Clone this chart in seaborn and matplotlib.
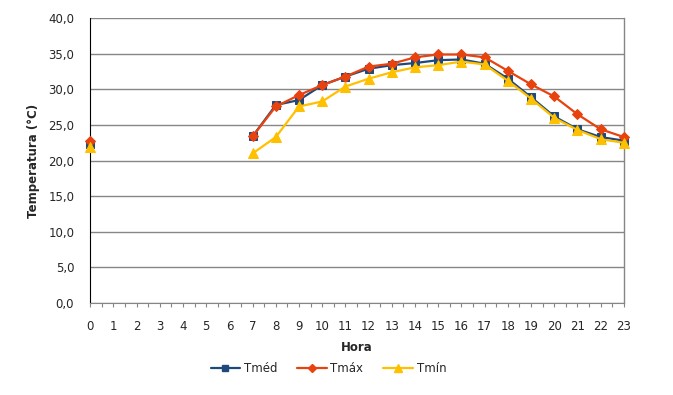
import numpy as np
import pandas as pd
import matplotlib
matplotlib.use("Agg")
import matplotlib.pyplot as plt
from matplotlib.lines import Line2D
from matplotlib.ticker import FuncFormatter, MultipleLocator
import seaborn as sns

# Hourly temperatures (hours 1-6 missing)
hours = list(range(24))
nan = np.nan
t_med = [22.3, nan, nan, nan, nan, nan, nan, 23.4, 27.8, 28.5, 30.6, 31.8,
         32.9, 33.4, 33.7, 34.1, 34.2, 33.6, 31.5, 28.9, 26.2, 24.4, 23.3, 22.8]
t_max = [22.7, nan, nan, nan, nan, nan, nan, 23.4, 27.6, 29.2, 30.6, 31.8,
         33.2, 33.6, 34.5, 34.9, 34.9, 34.5, 32.6, 30.7, 29.0, 26.5, 24.4, 23.3]
t_min = [21.9, nan, nan, nan, nan, nan, nan, 21.0, 23.3, 27.6, 28.3, 30.4,
         31.5, 32.4, 33.1, 33.4, 33.9, 33.5, 31.2, 28.7, 26.0, 24.3, 23.0, 22.5]
series_names = ["Tméd", "Tmáx", "Tmín"]
colors = ["#1F497D", "#E8420E", "#FFC000"]
markers = ["s", "D", "^"]
marker_sizes = [6, 5.5, 7]


def build_frame():
    rows = []
    for name, vals in zip(series_names, [t_med, t_max, t_min]):
        for h, v in zip(hours, vals):
            if np.isnan(v):
                continue
            # separate segments so the gap at hours 1-6 is not bridged
            rows.append({"hora": h, "temp": v, "serie": name,
                         "seg": 0 if h == 0 else 1})
    return pd.DataFrame(rows)


def main():
    df = build_frame()
    sns.set_style("white")
    plt.rcParams["font.family"] = ["DejaVu Sans"]

    fig = plt.figure(figsize=(6.73, 3.95), dpi=100)
    ax = fig.add_axes([0.134, 0.233, 0.793, 0.721])

    for name, c, m, ms in zip(series_names, colors, markers, marker_sizes):
        sub = df[df["serie"] == name]
        sns.lineplot(data=sub, x="hora", y="temp", units="seg", estimator=None,
                     color=c, marker=m, markersize=ms, markeredgecolor=c,
                     linewidth=1.6, ax=ax, legend=False, zorder=3)
    for line in ax.lines:
        line.set_clip_on(False)

    ax.set_xlim(0, 23)
    ax.set_ylim(0, 40)
    ax.set_xticks(hours)
    ax.xaxis.set_minor_locator(MultipleLocator(0.5))
    ax.set_yticks(np.arange(0, 41, 5))
    ax.yaxis.set_major_formatter(FuncFormatter(lambda v, p: f"{v:.1f}".replace(".", ",")))
    ax.grid(axis="y", color="#868686", linewidth=1.0)
    ax.set_axisbelow(True)
    ax.tick_params(axis="x", which="both", bottom=True, length=3, width=0.8,
                   color="#868686", labelsize=8.5, pad=9)
    ax.tick_params(axis="y", left=False, labelsize=8.5, pad=8)
    ax.spines["top"].set_visible(False)
    ax.spines["right"].set_color("#868686")
    ax.spines["right"].set_linewidth(1.0)
    ax.spines["left"].set_color("black")
    ax.spines["bottom"].set_color("#868686")

    ax.set_xlabel("Hora", fontsize=8.5, fontweight="bold", labelpad=6)
    ax.set_ylabel("Temperatura (°C)", fontsize=8.5, fontweight="bold", labelpad=6)

    handles = [Line2D([0], [0], color=c, marker=m, markersize=ms - 1, linewidth=1.6)
               for c, m, ms in zip(colors, markers, marker_sizes)]
    fig.legend(handles, series_names, loc="center", bbox_to_anchor=(0.488, 0.068),
               ncol=3, frameon=False, fontsize=8.5, handlelength=2.5,
               columnspacing=1.7, handletextpad=0.3)

    fig.savefig("out.png", dpi=100)


if __name__ == "__main__":
    main()
